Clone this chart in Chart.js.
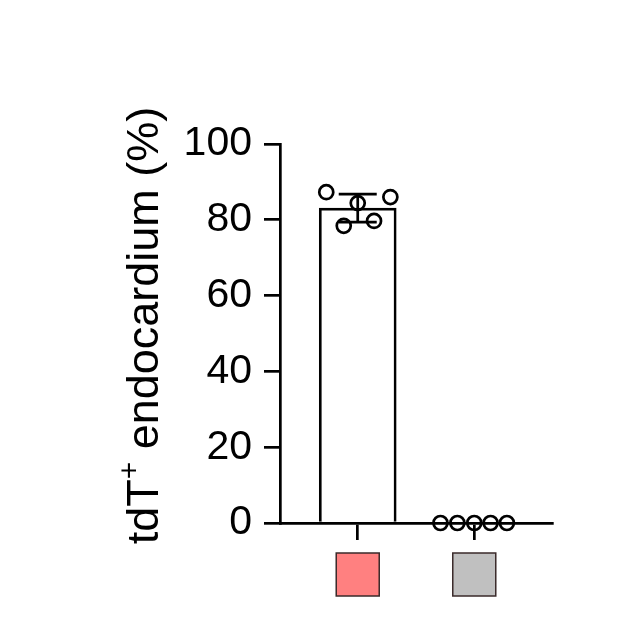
<!DOCTYPE html>
<html>
<head>
<meta charset="utf-8">
<script src="https://cdn.jsdelivr.net/npm/chart.js@4.4.1/dist/chart.umd.min.js"></script>
<style>
  html, body { margin: 0; padding: 0; background: #fff; }
</style>
</head>
<body>
<canvas id="grafico" width="636" height="622"></canvas>
<script>
// ==========================================
// DATOS
// ==========================================
const grupos = ['tdT+', 'control'];
const coloresGrupo = ['#ff8080', '#c0c0c0'];
const mediaGrupo = [83.1, 0];
const sdGrupo = [3.7, 0];
const puntosGrupo1 = [87.3, 84.4, 86.0, 78.4, 79.7];
const puntosGrupo2 = [0, 0, 0, 0, 0];
// desplazamiento horizontal de cada punto dentro de su grupo (en unidades de categoría)
const jitterGrupo1 = [-0.27, 0, 0.28, -0.12, 0.14];
const jitterGrupo2 = [-0.29, -0.145, 0, 0.14, 0.28];
const ticksY = [0, 20, 40, 60, 80, 100];
const tituloY = ['tdT', '+', ' endocardium (%)'];

const FUENTE = '"Liberation Sans", Arial, sans-serif';
const GROSOR = 2.7;

// puntos individuales como {x, y}
const puntos = [];
puntosGrupo1.forEach((v, i) => puntos.push({ x: 0 + jitterGrupo1[i], y: v }));
puntosGrupo2.forEach((v, i) => puntos.push({ x: 1 + jitterGrupo2[i], y: v }));

// Barras de error (media ± SD)
const pluginErrores = {
    id: 'errores',
    afterDatasetsDraw(chart) {
        const ctx = chart.ctx;
        const xs = chart.scales.x, ys = chart.scales.y;
        ctx.save();
        ctx.strokeStyle = '#000';
        ctx.lineWidth = GROSOR;
        mediaGrupo.forEach((m, i) => {
            const sd = sdGrupo[i];
            if (!sd) return;
            const x = xs.getPixelForValue(i);
            const yTop = ys.getPixelForValue(m + sd);
            const yBot = ys.getPixelForValue(m - sd);
            const half = 19;
            ctx.beginPath();
            ctx.moveTo(x, yTop); ctx.lineTo(x, yBot);
            ctx.moveTo(x - half, yTop); ctx.lineTo(x + half, yTop);
            ctx.moveTo(x - half, yBot); ctx.lineTo(x + half, yBot);
            ctx.stroke();
        });
        ctx.restore();
    }
};

// Cuadrados de color bajo el eje X + título del eje Y con superíndice
const pluginEtiquetas = {
    id: 'etiquetas',
    afterDraw(chart) {
        const ctx = chart.ctx;
        const xs = chart.scales.x, ys = chart.scales.y;
        ctx.save();
        // cuadrados
        grupos.forEach((g, i) => {
            const x = xs.getPixelForValue(i);
            ctx.fillStyle = coloresGrupo[i];
            ctx.fillRect(x - 21.5, 553, 43, 43);
            ctx.strokeStyle = '#3a2a2a';
            ctx.lineWidth = 1.5;
            ctx.strokeRect(x - 21.5, 553, 43, 43);
        });
        // título vertical
        const fGrande = '45px ' + FUENTE;
        const fPeq = '30px ' + FUENTE;
        ctx.fillStyle = '#000';
        ctx.textBaseline = 'alphabetic';
        ctx.textAlign = 'left';
        ctx.font = fGrande; const w1 = ctx.measureText(tituloY[0]).width;
        ctx.font = fPeq;    const w2 = ctx.measureText(tituloY[1]).width;
        ctx.font = fGrande; const w3 = ctx.measureText(tituloY[2]).width;
        const total = w1 + w2 + w3;
        const cy = (ys.top + ys.bottom) / 2 - 8;
        ctx.translate(158, cy);
        ctx.rotate(-Math.PI / 2);
        let x0 = -total / 2;
        ctx.font = fGrande; ctx.fillText(tituloY[0], x0, 0);
        ctx.font = fPeq;    ctx.fillText(tituloY[1], x0 + w1, -19);
        ctx.font = fGrande; ctx.fillText(tituloY[2], x0 + w1 + w2, 0);
        ctx.restore();
    }
};

new Chart(document.getElementById('grafico').getContext('2d'), {
    data: {
        datasets: [
            {
                type: 'bar',
                data: mediaGrupo.map((m, i) => ({ x: i, y: m })),
                backgroundColor: '#ffffff',
                borderColor: '#000000',
                borderWidth: GROSOR,
                barThickness: 77,
                order: 2
            },
            {
                type: 'scatter',
                data: puntos,
                pointRadius: 7,
                pointBorderWidth: GROSOR,
                pointBackgroundColor: 'rgba(0,0,0,0)',
                pointBorderColor: '#000000',
                clip: false,
                order: 1
            }
        ]
    },
    options: {
        responsive: false,
        animation: false,
        layout: { padding: { top: 144, right: 84, bottom: 0, left: 0 } },
        plugins: { legend: { display: false }, tooltip: { enabled: false } },
        scales: {
            x: {
                type: 'linear',
                offset: false,
                min: -0.667, max: 1.667,
                afterBuildTicks: s => { s.ticks = grupos.map((g, i) => ({ value: i })); },
                afterFit: s => { s.height = 99; },
                ticks: { display: false },
                grid: { offset: false, drawOnChartArea: false, drawTicks: true, tickLength: 17, color: '#000', lineWidth: GROSOR },
                border: { display: true, color: '#000', width: GROSOR }
            },
            y: {
                min: 0, max: 100,
                afterBuildTicks: s => { s.ticks = ticksY.map(v => ({ value: v })); },
                afterFit: s => { s.width = 280; },
                ticks: { color: '#000', padding: 12, font: { family: FUENTE, size: 41 } },
                grid: { drawOnChartArea: false, drawTicks: true, tickLength: 16, color: '#000', lineWidth: GROSOR },
                border: { display: true, color: '#000', width: GROSOR }
            }
        }
    },
    plugins: [pluginErrores, pluginEtiquetas]
});
</script>
</body>
</html>
